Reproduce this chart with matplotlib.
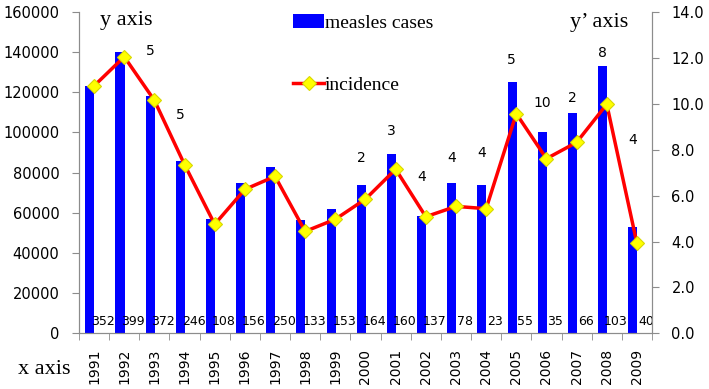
import numpy as np
import matplotlib.pyplot as plt
from matplotlib.ticker import FixedLocator, FormatStrFormatter

# data
years = [str(y) for y in range(1991, 2010)]
cases = [123300, 140200, 118200, 86000, 56900, 74800, 82700, 56400, 61700, 73700,
         89100, 58400, 75000, 73700, 125300, 100400, 109900, 133100, 53100]
incidence = [10.78, 12.05, 10.15, 7.35, 4.75, 6.27, 6.84, 4.44, 4.97, 5.85,
             7.15, 5.08, 5.53, 5.43, 9.57, 7.61, 8.32, 9.98, 3.92]
bottom_labels = ['352', '399', '372', '246', '108', '156', '250', '133', '153', '164',
                 '160', '137', '78', '23', '55', '35', '66', '103', '40']
# numbers written above some of the bars (year, text, height on left axis)
top_years = ['1993', '1994', '2000', '2001', '2002', '2003', '2004', '2005', '2006', '2007', '2008', '2009']
top_text = ['5', '5', '2', '3', '4', '4', '4', '5', '10', '2', '8', '4']
top_level = [140600, 108700, 87300, 100900, 78000, 87300, 89800, 136100, 114700, 117300, 139600, 96300]

serif = 'Liberation Serif'
gray = '#8c8c8c'

fig = plt.figure(figsize=(7.09, 3.89), dpi=100)
ax = fig.add_axes([79/709, 1-333.3/389, 573/709, 321.3/389])
ax2 = ax.twinx()

x = np.arange(len(years))
bars = ax.bar(x - 0.14, cases, width=0.3, color='#0000ff', label='measles cases', zorder=2)
line, = ax2.plot(x, incidence, color='#ff0000', lw=2.5, marker='D', ms=7,
                 mfc='#ffff00', mec='#d8d800', mew=0.8, label='incidence')

ax.set_xlim(-0.5, len(years) - 0.5)
ax.set_ylim(0, 160000)
ax2.set_ylim(0, 14)
ax.set_yticks(np.arange(0, 160001, 20000))
ax2.set_yticks(np.arange(0, 14.1, 2))
ax2.yaxis.set_major_formatter(FormatStrFormatter('%.1f'))

ax.set_xticks(x)
ax.set_xticklabels(years, rotation=90, fontsize=10)
ax.xaxis.set_minor_locator(FixedLocator(np.arange(-0.5, len(years), 1)))
ax.tick_params(axis='x', which='major', length=0, pad=11)
ax.tick_params(axis='x', which='minor', length=5, color=gray)
ax.tick_params(axis='y', length=5, color=gray, labelsize=10.5, pad=9)
ax2.tick_params(axis='y', length=5, color=gray, labelsize=10.5, pad=9)

for a in (ax, ax2):
    a.spines['top'].set_visible(False)
    for s in ('left', 'right', 'bottom'):
        a.spines[s].set_color(gray)

for xi, t in zip(x, bottom_labels):
    ax.text(xi + 0.3, 5800, t, ha='center', va='center', fontsize=9, zorder=3)

for yr, t, lv in zip(top_years, top_text, top_level):
    ax.text(years.index(yr) - 0.15, lv, t, ha='center', va='center', fontsize=10)

fig.legend(handles=[bars, line], loc='upper left', bbox_to_anchor=(293/709, 1-14/389),
           frameon=False, prop={'family': serif, 'size': 14}, handlelength=1.6,
           handletextpad=0.05, labelspacing=2.3, borderpad=0, borderaxespad=0)

fig.text(126/709, 1-20/389, 'y axis', family=serif, fontsize=16, ha='center', va='center')
fig.text(599/709, 1-23/389, 'y\u2019 axis', family=serif, fontsize=16, ha='center', va='center')
fig.text(44/709, 1-370/389, 'x axis', family=serif, fontsize=16, ha='center', va='center')

fig.savefig('out.png', dpi=100)
